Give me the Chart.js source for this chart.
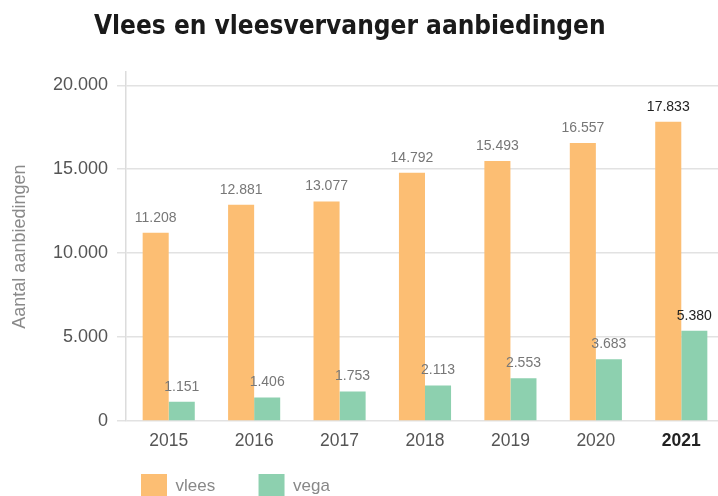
<!DOCTYPE html>
<html>
<head>
<meta charset="utf-8">
<script src="https://cdn.jsdelivr.net/npm/chart.js@4.4.0/dist/chart.umd.min.js"></script>
<style>
  html, body { margin: 0; padding: 0; background: #fff; overflow: hidden; width: 718px; height: 496px; }
  #wrap { position: absolute; left: 0; top: 0; }
</style>
</head>
<body>
<div id="wrap"><canvas id="chart" width="724" height="508"></canvas></div>
<script>
var years = ['2015', '2016', '2017', '2018', '2019', '2020', '2021'];
var vlees = [11208, 12881, 13077, 14792, 15493, 16557, 17833];
var vega = [1151, 1406, 1753, 2113, 2553, 3683, 5380];
var yTicks = [0, 5000, 10000, 15000, 20000];

var FONT = "'Liberation Sans', Arial, sans-serif";

// number with dot as thousands separator
function fmt(v) {
    return String(v).replace(/\B(?=(\d{3})+(?!\d))/g, '.');
}

// value labels above the bars
var valueLabels = {
    id: 'valueLabels',
    afterDatasetsDraw: function(chart) {
        var ctx = chart.ctx;
        ctx.save();
        ctx.textAlign = 'center';
        ctx.textBaseline = 'middle';
        ctx.font = '14px ' + FONT;
        chart.data.datasets.forEach(function(ds, di) {
            var meta = chart.getDatasetMeta(di);
            meta.data.forEach(function(bar, i) {
                var last = i === ds.data.length - 1;
                ctx.fillStyle = last ? '#222' : '#777';
                ctx.fillText(fmt(ds.data[i]), bar.x, bar.y - 15);
            });
        });
        ctx.restore();
    }
};

var ctx = document.getElementById('chart').getContext('2d');
var chart = new Chart(ctx, {
    type: 'bar',
    data: {
        labels: years,
        datasets: [{
            label: 'vlees',
            data: vlees,
            backgroundColor: '#FCBE73',
            categoryPercentage: 0.61,
            barPercentage: 1
        }, {
            label: 'vega',
            data: vega,
            backgroundColor: '#8DD0AF',
            categoryPercentage: 0.61,
            barPercentage: 1
        }]
    },
    options: {
        responsive: false,
        animation: false,
        layout: { padding: 0 },
        plugins: {
            title: {
                display: true,
                // trailing spaces nudge the centred title a bit to the left
                text: 'Vlees en vleesvervanger aanbiedingen   ',
                color: '#1a1a1a',
                font: { family: "'Liberation Sans Narrow', 'DejaVu Sans Condensed', sans-serif", size: 26, weight: 'bold', lineHeight: 1.2 },
                padding: { top: 12, bottom: 29 }
            },
            legend: {
                position: 'bottom',
                align: 'start',
                fullSize: false,
                labels: {
                    boxWidth: 26,
                    boxHeight: 24,
                    padding: 15,
                    color: '#888',
                    font: { family: FONT, size: 17 },
                    generateLabels: function(chart) {
                        var items = Chart.defaults.plugins.legend.labels.generateLabels(chart);
                        items[0].text = items[0].text + '      ';
                        items.forEach(function(it) { it.lineWidth = 0; });
                        return items;
                    }
                }
            },
            tooltip: { enabled: false }
        },
        scales: {
            x: {
                grid: { display: false, drawTicks: false },
                border: { display: false },
                ticks: {
                    padding: 10,
                    font: function(c) {
                        return { family: FONT, size: 17.5, weight: c.index === years.length - 1 ? 'bold' : 'normal' };
                    },
                    color: function(c) {
                        return c.index === years.length - 1 ? '#222' : '#555';
                    }
                },
                afterFit: function(scale) { scale.height -= 3; }
            },
            y: {
                min: 0,
                max: 20780,
                afterBuildTicks: function(scale) {
                    scale.ticks = yTicks.map(function(v) { return { value: v }; });
                },
                afterFit: function(scale) { scale.width = 126; },
                grid: { color: '#e2e2e2', lineWidth: 1.5, tickLength: 9 },
                border: { color: '#dcdcdc', width: 1.5 },
                ticks: {
                    padding: 9,
                    color: '#555',
                    font: { family: FONT, size: 18 },
                    callback: function(v) { return fmt(v); }
                },
                title: {
                    display: true,
                    text: 'Aantal aanbiedingen',
                    color: '#8a8a8a',
                    font: { family: FONT, size: 18 },
                    padding: { top: 9, bottom: 0 }
                }
            }
        }
    },
    plugins: [valueLabels]
});
</script>
</body>
</html>
